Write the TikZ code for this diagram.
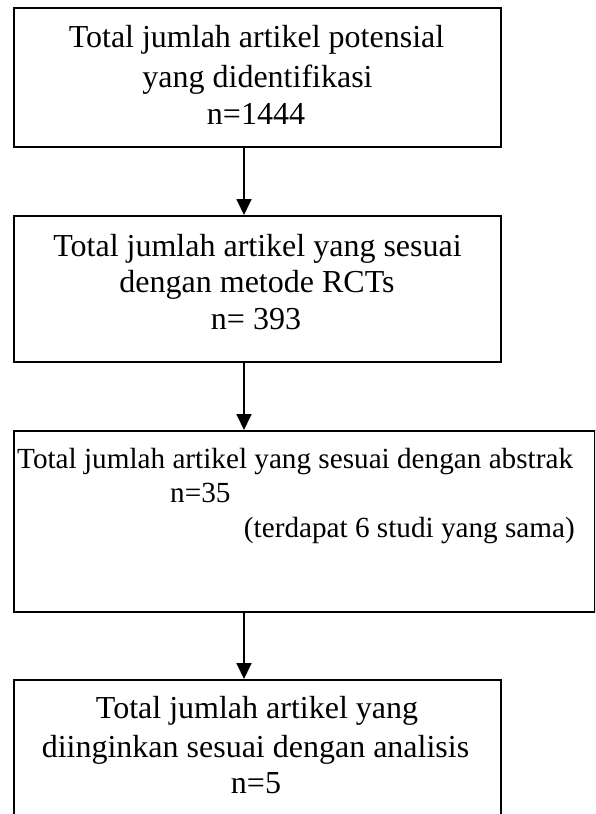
\documentclass[tikz,border=0pt]{standalone}
\usepackage{fontspec}
\setmainfont{Liberation Serif}
\usetikzlibrary{arrows.meta}
\begin{document}
\begin{tikzpicture}[x=1pt,y=-1pt,
  box/.style={draw=black,line width=1.6pt,minimum width=#1,inner sep=0pt,anchor=north west},
  txt/.style={inner sep=0pt,font=\fontsize{32}{38}\selectfont},
  txts/.style={inner sep=0pt,font=\fontsize{29.2}{35}\selectfont},
  arr/.style={line width=1.8pt,-{Triangle[length=16pt,width=15pt]}}]
\useasboundingbox[fill=white] (0,0) rectangle (595,814);
\begin{scope}
\clip (0,0) rectangle (595,814);
\node[box=487pt,minimum height=139pt] (b1) at (13,7) {};
\node[box=487pt,minimum height=146pt] (b2) at (13,215) {};
\node[box=581pt,minimum height=181pt] (b3) at (13,430) {};
\node[box=487pt,minimum height=160pt] (b4) at (13,679) {};
\end{scope}
\coordinate (ax) at (244,0);
% box 1 text
\node[txt,anchor=base] (t11) at (256.5,47) {Total jumlah artikel potensial};
\node[txt,anchor=base] (t12) at (257.5,87) {yang didentifikasi};
\node[txt,anchor=base] (t13) at (256,124) {n=1444};
% box 2 text
\node[txt,anchor=base] (t21) at (257.5,256) {Total jumlah artikel yang sesuai};
\node[txt,anchor=base] (t22) at (257,292) {dengan metode RCTs};
\node[txt,anchor=base] (t23) at (256,329) {n= 393};
% box 3 text
\node[txts,anchor=base west] (t31) at (17,468) {Total jumlah artikel yang sesuai dengan abstrak};
\node[txts,anchor=base west] (t32) at (170,502) {n=35};
\node[txts,anchor=base east] (t33) at (575,537) {(terdapat 6 studi yang sama)};
% box 4 text
\node[txt,anchor=base] (t41) at (257,718) {Total jumlah artikel yang};
\node[txt,anchor=base] (t42) at (255.5,757) {diinginkan sesuai dengan analisis};
\node[txt,anchor=base] (t43) at (256,793) {n=5};
% arrows
\draw[arr] (b1.south -| ax) -- (b2.north -| ax);
\draw[arr] (b2.south -| ax) -- (b3.north -| ax);
\draw[arr] (b3.south -| ax) -- (b4.north -| ax);
\end{tikzpicture}
\end{document}
